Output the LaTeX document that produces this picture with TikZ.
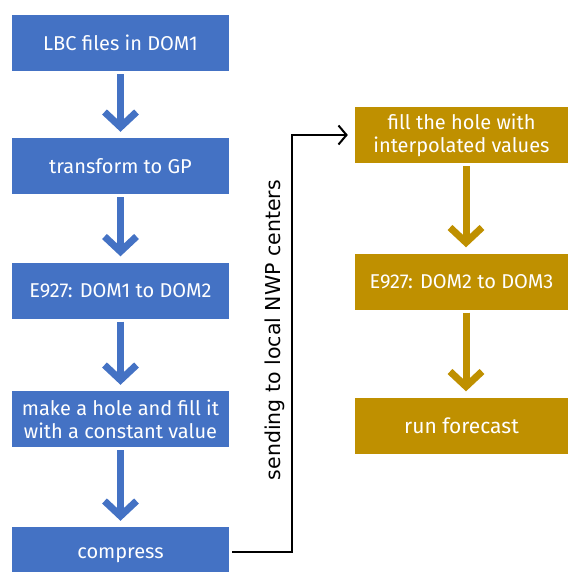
\documentclass[tikz,border=0pt]{standalone}
\usepackage{fontspec}
\setmainfont{Fira Sans}
\newfontfamily\labelfont{DejaVu Sans}
\usetikzlibrary{arrows.meta}
\definecolor{boxblue}{HTML}{4472C4}
\definecolor{boxgold}{HTML}{BF9000}
\begin{document}
\begin{tikzpicture}[x=1pt,y=-1pt,
  bluebox/.style={fill=boxblue,draw=none,text=white,minimum width=217pt,minimum height=56pt,inner sep=0pt,align=center,font=\fontsize{20}{23}\selectfont},
  goldbox/.style={fill=boxgold,draw=none,text=white,minimum width=213pt,minimum height=56pt,inner sep=0pt,align=center,font=\fontsize{20}{23}\selectfont},
  bluearrow/.style={draw=boxblue,line width=7pt,-{Straight Barb[length=15pt,width=32pt,line width=7pt]},shorten <=3pt,shorten >=6pt},
  goldarrow/.style={draw=boxgold,line width=7pt,-{Straight Barb[length=15pt,width=32pt,line width=7pt]},shorten <=3pt,shorten >=6pt},
  conn/.style={draw=black,line width=2pt,-{Straight Barb[length=8pt,width=19pt,line width=2pt]}}
]
\useasboundingbox (0,0) rectangle (569,572);
\node[bluebox] (b1) at (120.5,43) {LBC files in DOM1};
\node[bluebox] (b2) at (120.5,166) {transform to GP};
\node[bluebox] (b3) at (120.5,290.5) {E927: DOM1 to DOM2};
\node[bluebox] (b4) at (120.5,419) {make a hole and fill it\\with a constant value};
\node[bluebox] (b5) at (120.5,555) {compress};
\node[goldbox] (g1) at (461.5,135) {fill the hole with\\interpolated values};
\node[goldbox] (g2) at (461.5,281.5) {E927: DOM2 to DOM3};
\node[goldbox,font=\fontsize{21}{24}\selectfont] (g3) at (461.5,425.5) {run forecast};
\draw[bluearrow] (b1.south) -- (b2.north);
\draw[bluearrow] (b2.south) -- (b3.north);
\draw[bluearrow] (b3.south) -- (b4.north);
\draw[bluearrow] (b4.south) -- (b5.north);
\draw[goldarrow] ([xshift=4.5pt]g1.south) -- ([xshift=4.5pt]g2.north);
\draw[goldarrow] ([xshift=4.5pt]g2.south) -- ([xshift=4.5pt]g3.north);
\coordinate (bend) at (292,552);
\draw[conn,shorten >=7pt] ([xshift=3pt]b5.east |- bend) -- (bend) |- (g1.west);
\node[rotate=90,font=\labelfont\fontsize{20.5}{24}\selectfont] (lab) at (275,330) {sending to local NWP centers};
\end{tikzpicture}
\end{document}
